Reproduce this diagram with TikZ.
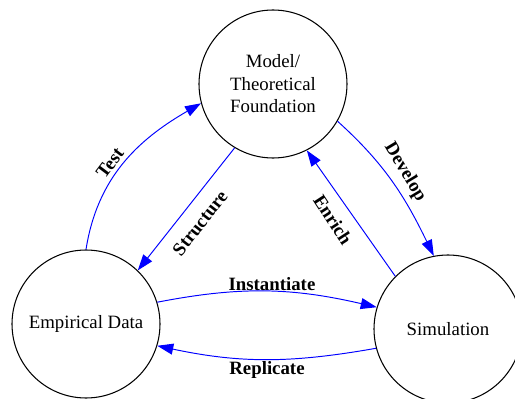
\documentclass[tikz,border=0pt]{standalone}
\usepackage{fontspec}
\setmainfont{Liberation Serif}
\usepackage{tikz}
\usetikzlibrary{arrows.meta}

\begin{document}
\begin{tikzpicture}
\tikzset{basic/.style={draw,line width=0.6pt,text badly centered}}
\tikzset{yuan/.style={basic, circle, minimum size=2.96cm, inner sep=0pt, align=center,
  font=\fontsize{10.7}{12.8}\selectfont}}
\tikzset{biao/.style={inner sep=1pt,
  font=\fontsize{10.7}{12.8}\selectfont\bfseries}}
\tikzset{jian/.style={draw=blue, line width=0.55pt, -{Triangle[length=0.32cm,width=0.22cm]}}}

\useasboundingbox (0,0) rectangle (10.3,7.96);

\node[yuan](model)at(5.46,6.28){Model/\\Theoretical\\Foundation};
\node[yuan](data)at(1.72,1.48){Empirical Data};
\node[yuan](sim)at(8.96,1.38){Simulation};

\node[biao, rotate=53](test)at(2.2,4.7){Test};
\node[biao, rotate=52](structure)at(4.0,3.5){Structure};
\node[biao, rotate=-59](develop)at(8.1,4.52){Develop};
\node[biao, rotate=-57](enrich)at(6.66,3.56){Enrich};
\node[biao](instantiate)at(5.44,2.28){Instantiate};
\node[biao](replicate)at(5.34,0.56){Replicate};

\path[jian] (data.90) to[out=81, in=210] (model.195);
\path[jian] (model.239) -- (data.46);
\path[jian] (model.-30) to[out=-42, in=116] (sim.101);
\path[jian] (sim.135) -- (model.297);
\path[jian] (data.17) to[out=11, in=167] (sim.163);
\path[jian] (sim.195) to[out=190, in=-12] (data.-17);
\end{tikzpicture}
\end{document}
